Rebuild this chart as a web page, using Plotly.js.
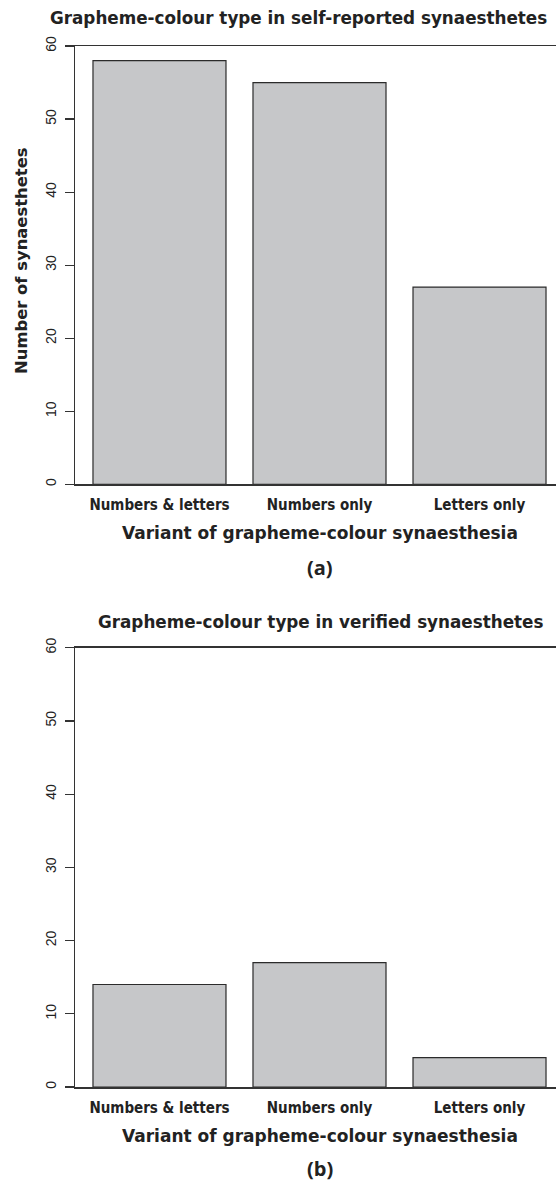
<!DOCTYPE html>
<html>
<head>
<meta charset="utf-8">
<script src="https://cdn.plot.ly/plotly-3.0.1.min.js"></script>
<style>html,body{margin:0;padding:0;background:#fff;}#chart{width:556px;height:1185px;}</style>
</head>
<body>
<div id="chart"></div>
<script>
const categories = ["Numbers & letters", "Numbers only", "Letters only"];
const selfReported = [58, 55, 27];
const verified = [14, 17, 4];
const yTicks = [0, 10, 20, 30, 40, 50, 60];
const titleA = "Grapheme-colour type in self-reported synaesthetes";
const titleB = "Grapheme-colour type in verified synaesthetes";
const xTitle = "Variant of grapheme-colour synaesthesia";
const yTitle = "Number of synaesthetes";
const panelA = "(a)";
const panelB = "(b)";

const W = 556, H = 1185;
const px = x => x / W;
const py = y => 1 - y / H;

const barStyle = {color: '#c6c7c9', line: {color: '#2b2b2b', width: 1.2}};
const traces = [
  {type: 'bar', x: categories, y: selfReported, xaxis: 'x', yaxis: 'y', marker: barStyle, hoverinfo: 'x+y'},
  {type: 'bar', x: categories, y: verified, xaxis: 'x2', yaxis: 'y2', marker: barStyle, hoverinfo: 'x+y'}
];

const tickFontX = {family: 'DejaVu Sans Condensed, DejaVu Sans, sans-serif', size: 15, color: '#222', weight: 'bold'};
const tickFontY = {family: 'Liberation Sans, Arial, sans-serif', size: 14, color: '#222'};

function xAx(anchor) {
  return {
    domain: [px(75), 1], anchor: anchor, range: [-0.528, 2.478], type: 'category',
    showline: true, mirror: true, linecolor: '#333', linewidth: 1.5,
    ticks: '', showgrid: false, zeroline: false, tickfont: tickFontX,
    ticklabelstandoff: 6, fixedrange: true
  };
}
function yAx(anchor, dom) {
  return {
    domain: dom, anchor: anchor, range: [0, 60], tickvals: yTicks,
    ticktext: yTicks.map(String),
    showline: true, linecolor: '#333', linewidth: 1.5, ticks: 'outside', ticklen: 9,
    tickwidth: 1.2, tickcolor: '#333', tickangle: -90, showgrid: false, zeroline: false,
    tickfont: tickFontY, ticklabelstandoff: 3, fixedrange: true
  };
}

const titleFont = {family: 'DejaVu Sans, sans-serif', size: 16.8, color: '#222', weight: 'bold'};
const axTitleFont = {family: 'DejaVu Sans, sans-serif', size: 17, color: '#222', weight: 'bold'};
const yTitleFont = {family: 'DejaVu Sans, sans-serif', size: 16.4, color: '#222', weight: 'bold'};
const panelFont = {family: 'Open Sans, Lato, sans-serif', size: 20, color: '#222', weight: 'bold'};

const ann = (text, x, y, font, extra) => Object.assign({
  text: text, x: px(x), y: py(y), xref: 'paper', yref: 'paper',
  xanchor: 'center', yanchor: 'middle', showarrow: false, font: font, borderpad: 0
}, extra || {});

const layout = {
  width: W, height: H,
  margin: {l: 0, r: 0, t: 0, b: 0},
  paper_bgcolor: '#fff', plot_bgcolor: '#fff',
  showlegend: false, bargap: 27 / 160,
  xaxis: xAx('y'),
  yaxis: yAx('x', [py(484.3), py(46)]),
  xaxis2: xAx('y2'),
  yaxis2: yAx('x2', [py(1087), py(647.7)]),
  annotations: [
    ann(titleA, 298, 18, titleFont),
    ann(titleB, 320, 622, titleFont),
    ann(xTitle, 320, 533, axTitleFont),
    ann(xTitle, 320, 1136, axTitleFont),
    ann(yTitle, 21, 261, yTitleFont, {textangle: -90}),
    ann(panelA, 320, 567, panelFont),
    ann(panelB, 320, 1168, panelFont)
  ]
};

Plotly.newPlot('chart', traces, layout, {displayModeBar: false, staticPlot: true});
</script>
</body>
</html>
